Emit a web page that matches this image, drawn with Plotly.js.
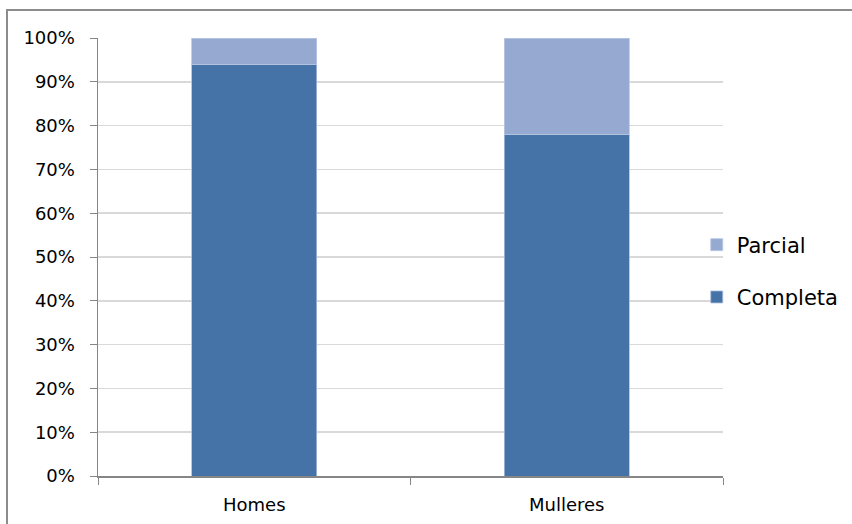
<!DOCTYPE html>
<html>
<head>
<meta charset="utf-8">
<script src="https://cdn.plot.ly/plotly-3.0.1.min.js"></script>
<style>html,body{margin:0;padding:0;background:#fff;}#chart{width:852px;height:524px;}</style>
</head>
<body>
<div id="chart"></div>
<script>
const categories = ["Homes", "Mulleres"];
const completa = [0.94, 0.78];
const parcial = [0.06, 0.22];
const seriesNames = ["Completa", "Parcial"];
const yTickVals = [0, 0.1, 0.2, 0.3, 0.4, 0.5, 0.6, 0.7, 0.8, 0.9, 1.0];

const font = "DejaVu Sans, sans-serif";
const traces = [
  {type: "bar", name: seriesNames[0], x: categories, y: completa, legendgroup: "a", legendrank: 2,
   marker: {color: "#4573A7", line: {color: "#A9BCDD", width: 0.8}}},
  {type: "bar", name: seriesNames[1], x: categories, y: parcial, legendgroup: "b", legendrank: 1,
   marker: {color: "#95A9D1", line: {color: "#B9C8E4", width: 0.8}}}
];
const layout = {
  width: 852, height: 524,
  margin: {l: 98, r: 129, t: 38, b: 48, autoexpand: false},
  paper_bgcolor: "#fff", plot_bgcolor: "#fff",
  barmode: "stack", bargap: 0.6,
  font: {family: font, size: 18, color: "#000"},
  xaxis: {type: "category", tickson: "boundaries", ticks: "outside", ticklen: 7, tickcolor: "#868686",
          showline: true, linecolor: "#868686", linewidth: 1.5, showgrid: false, zeroline: false,
          ticklabelstandoff: 12, tickfont: {family: font, size: 18, color: "#000"}},
  yaxis: {range: [0, 1], tickvals: yTickVals, tickformat: ".0%", ticks: "outside", ticklen: 7,
          tickcolor: "#868686", showline: true, linecolor: "#868686", linewidth: 1.5,
          showgrid: true, gridcolor: "#D9D9D9", gridwidth: 1.5, zeroline: false,
          ticklabelstandoff: 11, tickfont: {family: font, size: 18, color: "#000"}},
  showlegend: true,
  legend: {x: 0.958, xanchor: "left", y: 0.468, yanchor: "middle", traceorder: "grouped",
           tracegroupgap: 22, font: {family: font, size: 21, color: "#000"}, bgcolor: "rgba(0,0,0,0)"},
  shapes: [{type: "path", xref: "paper", yref: "paper",
            path: "M -0.1456,-0.2 L -0.1456,1.0639 L 1.3,1.0639",
            line: {color: "#8C8C8C", width: 2}}]
};
Plotly.newPlot("chart", traces, layout, {displayModeBar: false, staticPlot: true});
</script>
</body>
</html>
